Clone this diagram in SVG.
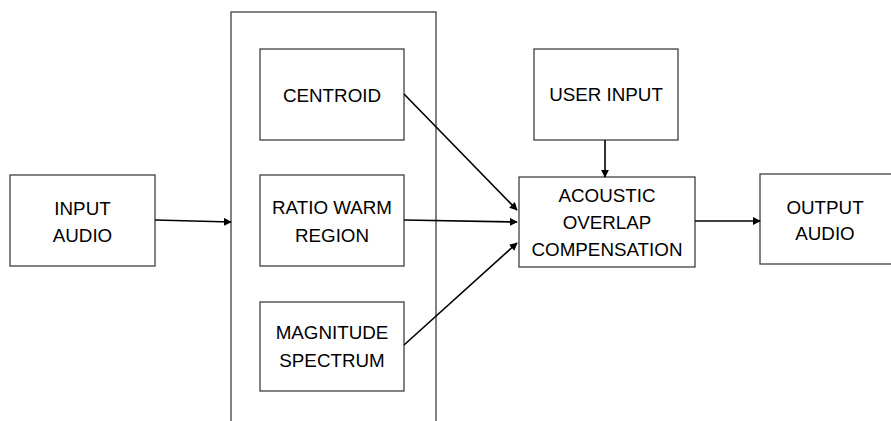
<svg xmlns="http://www.w3.org/2000/svg" width="891" height="421" viewBox="0 0 891 421">
<style>
rect{fill:#fff;stroke:#404040;stroke-width:1.3}
text{font-family:"Liberation Sans",Arial,sans-serif;font-size:18.8px;fill:#000;text-anchor:middle;dominant-baseline:central}
.c line{stroke:#000;stroke-width:1.6;marker-end:url(#a)}
</style>
<defs><marker id="a" viewBox="0 0 10 10" refX="9" refY="5" markerWidth="5" markerHeight="5" orient="auto" markerUnits="strokeWidth"><path d="M0,0 L10,5 L0,10 z" fill="#000"/></marker></defs>
<rect width="891" height="421" style="fill:#fff;stroke:none"/>
<g id="container"><rect x="231" y="12" width="205" height="420"/></g>
<g id="input"><rect x="10" y="175" width="145" height="91"/><text x="82.5" y="208">INPUT</text><text x="82.5" y="235">AUDIO</text></g>
<g id="centroid"><rect x="260" y="49" width="144" height="91"/><text x="332" y="95">CENTROID</text></g>
<g id="ratio"><rect x="260" y="175" width="144" height="91"/><text x="332" y="207">RATIO WARM</text><text x="332" y="235">REGION</text></g>
<g id="magnitude"><rect x="260" y="302" width="144" height="89"/><text x="332" y="332">MAGNITUDE</text><text x="332" y="360">SPECTRUM</text></g>
<g id="user"><rect x="534" y="49" width="144" height="91"/><text x="606" y="94">USER INPUT</text></g>
<g id="aoc"><rect x="519" y="177" width="176" height="90"/><text x="607" y="195">ACOUSTIC</text><text x="607" y="222">OVERLAP</text><text x="607" y="249">COMPENSATION</text></g>
<g id="output"><rect x="760" y="174" width="140" height="90"/><text x="825" y="207">OUTPUT</text><text x="825" y="233">AUDIO</text></g>
<g class="c" id="connectors">
<line x1="155" y1="220" x2="231" y2="222"/>
<line x1="404" y1="94" x2="517" y2="210"/>
<line x1="404" y1="220" x2="517" y2="222"/>
<line x1="404" y1="345" x2="517" y2="243"/>
<line x1="605" y1="140" x2="605" y2="177"/>
<line x1="695" y1="221" x2="760" y2="221"/>
</g>
</svg>
